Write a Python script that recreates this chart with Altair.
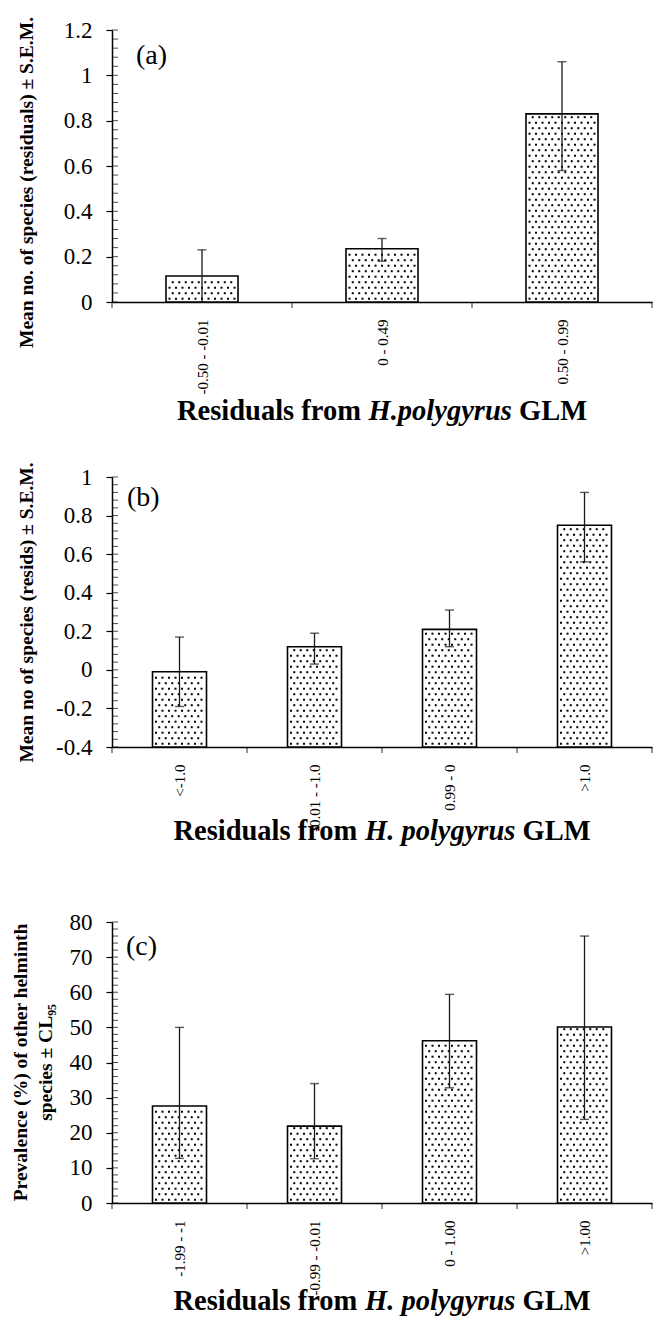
import altair as alt
import pandas as pd

FONT = "Liberation Serif"

# ---------------- data ----------------
a_cats = ["-0.50 - -0.01", "0 - 0.49", "0.50 - 0.99"]
a_vals = [0.115, 0.235, 0.83]
a_lo = [0.0, 0.18, 0.58]
a_hi = [0.23, 0.28, 1.06]
a_major = [0, 0.2, 0.4, 0.6, 0.8, 1.0, 1.2]

b_cats = ["<-1.0", "-0.01 - -1.0", "0.99 - 0", ">1.0"]
b_vals = [-0.01, 0.12, 0.21, 0.75]
b_lo = [-0.19, 0.03, 0.12, 0.56]
b_hi = [0.17, 0.19, 0.31, 0.92]
b_major = [-0.4, -0.2, 0, 0.2, 0.4, 0.6, 0.8, 1.0]

c_cats = ["-1.99 - -1", "-0.99 - -0.01", "0 - 1.00", ">1.00"]
c_vals = [27.6, 21.9, 46.2, 50.1]
c_lo = [12.7, 12.6, 32.8, 23.8]
c_hi = [50.0, 34.0, 59.4, 76.0]
c_major = [0, 10, 20, 30, 40, 50, 60, 70, 80]

# Times (Liberation Serif) advance widths, per 1000 em
BOLD = {" ": 250, "R": 722, "e": 444, "s": 389, "i": 278, "d": 556, "u": 556, "a": 500,
        "l": 278, "f": 333, "r": 444, "o": 500, "m": 833, "G": 778, "L": 667, "M": 944}
BOLDIT = {" ": 250, "H": 778, ".": 250, "p": 500, "o": 500, "l": 278, "y": 444, "g": 500,
          "r": 389, "u": 556, "s": 389}


def tw(s, table, size):
    return sum(table.get(ch, 500) for ch in s) * size / 1000.0


def make_panel(cats, vals, lo, hi, ymin, ymax, major, minor_step, width, height,
               letter, letter_xy, ytitle, ytitle_x, ytitle_y, italic, xtitle_y):
    n = len(cats)
    pos = [i + 0.5 for i in range(n)]
    df = pd.DataFrame({"cat": cats, "pos": pos, "x0": [p - 0.2 for p in pos],
                       "x1": [p + 0.2 for p in pos], "val": vals, "lo": lo, "hi": hi,
                       "base": [ymin] * n})

    yscale = alt.Scale(domain=[ymin, ymax], nice=False, zero=False)
    xscale = alt.Scale(domain=[0, n], nice=False, zero=False)
    step = width / n

    names = "[" + ",".join("'" + c + "'" for c in cats) + "]"
    xaxis = alt.Axis(title=None, values=pos,
                     labelExpr="%s[floor(datum.value)]" % names,
                     labelAngle=270, labelFont=FONT, labelFontSize=15,
                     labelColor="black", labelPadding=17, labelFlush=False, labelOverlap=False,
                     labelBound=False, ticks=False,
                     domainColor="black", domainWidth=1.5, grid=False)
    yaxis = alt.Axis(values=major, title=ytitle, titleFont=FONT, titleFontSize=19.5,
                     titleFontWeight="bold", titleColor="black", titleAngle=270,
                     titleX=ytitle_x, titleY=ytitle_y, titleBaseline="middle",
                     titleAlign="center", titleLineHeight=25,
                     labelFont=FONT, labelFontSize=23, labelColor="black", labelPadding=14,
                     labelExpr="(datum.value < 0 ? '-' : '') + format(abs(datum.value), '~g')",
                     labelFlush=False, labelOverlap=False, tickSize=6, tickColor="black",
                     tickWidth=1.2, domainColor="black", domainWidth=1.5, grid=False)

    X = alt.X("x0:Q", scale=xscale, axis=xaxis)

    bars = alt.Chart(df).mark_bar(fill="white", stroke="black", strokeWidth=1.6).encode(
        x=X, x2="x1:Q", y=alt.Y("val:Q", scale=yscale, axis=yaxis), y2="base:Q")

    # stipple pattern of the bars
    wbar = 0.4 * step
    dyu = 5.5 * (ymax - ymin) / height
    rows = []
    for p0, v in zip(pos, vals):
        r = 0
        while ymin + (r + 0.6) * dyu < v - 0.3 * dyu:
            yv = ymin + (r + 0.6) * dyu
            p = 3.5 + (3.25 if r % 2 else 0.0)
            while p <= wbar - 3:
                rows.append({"dx": p0 - 0.2 + 0.4 * p / wbar, "dy": yv})
                p += 6.5
            r += 1
    ddf = pd.DataFrame(rows)
    dots = alt.Chart(ddf).mark_square(size=4, color="black", opacity=1).encode(
        x=alt.X("dx:Q", scale=xscale, axis=xaxis),
        y=alt.Y("dy:Q", scale=yscale, axis=yaxis))

    XP = alt.X("pos:Q", scale=xscale, axis=xaxis)
    rules = alt.Chart(df).mark_rule(color="#1a1a1a", strokeWidth=1.3).encode(
        x=XP, y=alt.Y("lo:Q", scale=yscale, axis=yaxis), y2="hi:Q")
    cap_hi = alt.Chart(df).mark_tick(color="#1a1a1a", thickness=1.4, size=9,
                                     orient="horizontal").encode(
        x=XP, y=alt.Y("hi:Q", scale=yscale, axis=yaxis))
    cap_lo = alt.Chart(df).mark_tick(color="#1a1a1a", thickness=1.4, size=9,
                                     orient="horizontal").encode(
        x=XP, y=alt.Y("lo:Q", scale=yscale, axis=yaxis))

    # inner (minor + major) ticks on the y axis
    nminor = int(round((ymax - ymin) / minor_step))
    mdf = pd.DataFrame({"m": [round(ymin + k * minor_step, 6) for k in range(nminor + 1)]})
    minor = alt.Chart(mdf).mark_tick(color="black", thickness=1, size=6,
                                     orient="horizontal").encode(
        x=alt.value(3), y=alt.Y("m:Q", scale=yscale, axis=yaxis))

    # category boundary ticks on the x axis
    bdf = pd.DataFrame({"b": list(range(n + 1))})
    xticks = alt.Chart(bdf).mark_tick(color="black", thickness=1.2, size=6,
                                      orient="vertical").encode(
        x=alt.X("b:Q", scale=xscale, axis=xaxis), y=alt.value(height + 3))

    let = alt.Chart(pd.DataFrame({"t": [letter]})).mark_text(
        font=FONT, fontSize=28, align="left", baseline="alphabetic", color="black").encode(
        text="t:N", x=alt.value(letter_xy[0]), y=alt.value(letter_xy[1]))

    # x title with italic species name
    fs = 28.5
    p1, p3 = "Residuals from", "GLM"
    w1, w2, w3 = tw(p1, BOLD, fs), tw(italic, BOLDIT, fs), tw(p3, BOLD, fs)
    sp = 0.25 * fs
    left = width / 2 - (w1 + sp + w2 + sp + w3) / 2
    xs = [left, left + w1 + sp, left + w1 + sp + w2 + sp]
    parts = []
    for txt, xx, style in [(p1, xs[0], "normal"), (italic, xs[1], "italic"), (p3, xs[2], "normal")]:
        parts.append(alt.Chart(pd.DataFrame({"t": [txt]})).mark_text(
            font=FONT, fontSize=fs, fontWeight="bold", fontStyle=style, align="left",
            baseline="alphabetic", color="black").encode(
            text="t:N", x=alt.value(xx), y=alt.value(xtitle_y)))

    return alt.layer(bars, dots, rules, cap_hi, cap_lo, minor, xticks, let, *parts).properties(
        width=width, height=height)


pa = make_panel(a_cats, a_vals, a_lo, a_hi, 0, 1.2, a_major, 0.04, 540, 272,
                "(a)", (24, 34), "Mean no. of species (residuals) ± S.E.M.", -86, 152,
                "H.polygyrus", 390)
pb = make_panel(b_cats, b_vals, b_lo, b_hi, -0.4, 1.0, b_major, 0.04, 540, 270,
                "(b)", (15, 29), "Mean no of species (resids) ± S.E.M.", -86, 135,
                "H. polygyrus", 363)
pc = make_panel(c_cats, c_vals, c_lo, c_hi, 0, 80, c_major, 2, 540, 281,
                "(c)", (14, 33), ["Prevalence (%) of other helminth", "species ± CL₉₅"],
                -92, 140, "H. polygyrus", 388)

chart = alt.vconcat(pa, pb, pc, spacing=175, bounds="flush").configure_view(
    stroke=None).properties(
    padding={"left": 10, "top": 16, "right": 2, "bottom": 0}, background="white")

chart.save("out.html", embed_options={"renderer": "svg", "actions": False})
